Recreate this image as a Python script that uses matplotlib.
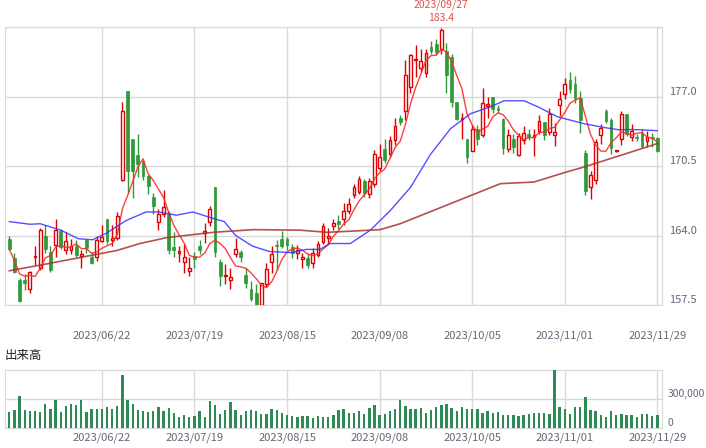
import matplotlib
matplotlib.use("Agg")
import matplotlib.pyplot as plt
import numpy as np
import pandas as pd

plt.rcParams['font.family'] = ['Noto Sans CJK JP', 'DejaVu Sans']

opens = [163.7,161.9,159.8,159.8,159.0,162.0,161.0,164.0,162.5,163.1,164.4,162.6,162.6,163.0,162.1,163.6,162.0,162.0,163.5,165.5,
         163.6,163.8,169.2,177.5,173.0,171.5,171.0,169.6,167.6,165.3,166.0,166.0,162.9,162.4,161.5,160.7,162.1,163.0,164.2,165.3,
         168.5,161.5,160.2,159.8,162.3,162.5,160.3,159.0,158.6,157.5,159.5,161.5,163.1,163.7,163.7,162.9,162.4,161.8,161.9,161.4,
         162.2,163.4,163.8,164.9,165.4,165.5,166.3,167.8,168.1,169.1,167.9,168.8,170.3,172.1,171.6,172.9,175.0,175.6,177.9,180.4,
         179.7,179.2,181.6,181.9,181.4,181.3,180.7,176.5,174.9,173.0,171.9,174.0,173.4,176.1,177.0,175.9,174.9,172.1,173.0,171.5,
         172.9,173.5,173.2,173.8,174.6,173.7,173.4,176.2,177.2,178.5,178.2,176.9,171.7,168.5,169.2,173.4,175.6,174.8,171.9,173.0,
         175.4,173.2,173.2,173.6,172.8,173.2,173.1]
closes = [162.7,160.6,157.9,159.6,160.6,162.1,164.5,162.7,160.8,164.5,162.9,163.5,163.0,162.2,162.3,162.8,161.4,163.6,163.9,163.5,
          163.8,165.8,175.6,170.0,170.0,170.7,169.6,168.6,166.8,166.0,166.7,162.6,162.6,162.5,162.0,161.0,161.8,162.6,164.4,166.5,
          162.5,160.2,160.3,160.1,162.7,162.0,159.6,158.1,157.4,159.6,160.9,162.3,163.0,163.0,163.1,162.4,162.6,162.0,161.2,162.4,
          163.2,164.9,163.9,165.2,165.1,166.3,166.9,168.5,169.3,168.0,169.1,171.6,171.3,171.1,172.9,174.2,174.6,179.0,180.9,180.5,
          180.3,181.1,181.3,181.2,183.2,179.0,176.5,174.9,175.0,171.3,174.0,173.0,176.4,176.3,175.8,175.8,172.2,173.4,172.3,173.3,
          173.6,173.2,173.4,174.7,173.4,175.4,173.7,176.8,178.2,177.7,176.9,174.8,168.2,169.7,172.7,174.1,174.7,172.2,172.0,175.4,
          173.5,173.8,173.1,172.4,173.2,173.1,171.9]
highs = [164.0,162.4,160.0,160.4,160.7,163.0,164.7,165.0,163.0,165.5,164.6,164.3,163.7,163.6,162.6,163.7,162.5,164.0,165.0,165.5,
         165.0,166.2,176.5,177.5,173.0,173.5,171.0,169.7,168.0,166.5,168.3,166.3,164.3,163.0,163.2,162.0,162.5,163.6,165.2,166.8,
         168.5,161.8,161.3,161.0,163.8,162.6,161.0,159.7,159.5,159.6,161.4,163.0,163.6,164.4,163.9,163.2,163.1,162.4,162.4,162.8,
         163.5,165.2,164.7,165.5,165.9,167.0,167.5,168.8,169.6,169.3,169.4,172.0,172.6,173.0,173.3,175.0,175.3,180.4,181.0,181.8,
         181.4,181.4,182.2,182.4,183.4,182.0,181.0,176.5,175.5,173.0,174.3,174.3,177.8,177.0,177.0,176.2,175.0,174.0,173.5,173.6,
         174.2,174.0,174.0,175.3,174.6,175.9,174.5,177.5,178.7,179.3,178.9,177.5,172.0,170.0,173.0,174.4,175.8,175.0,172.0,175.6,
         175.4,174.4,173.5,174.0,173.8,173.6,173.2]
lows = [162.6,160.5,157.8,158.9,158.6,161.2,160.8,162.4,160.6,162.0,162.7,162.3,162.3,162.0,161.0,162.4,161.3,161.6,163.4,163.2,
        163.0,163.6,169.1,168.0,167.5,169.5,169.2,167.9,166.0,164.5,165.7,162.3,162.0,161.5,160.5,160.2,161.0,162.3,163.3,164.9,
        162.0,159.3,159.5,159.0,162.0,161.5,159.1,157.9,157.2,157.5,159.2,160.5,160.8,162.8,162.6,161.9,161.8,161.0,161.0,161.0,
        162.0,163.2,163.2,164.5,164.6,165.0,166.0,167.5,167.9,167.6,167.5,168.5,170.0,170.8,171.3,172.5,174.3,174.8,177.3,178.8,
        179.3,178.8,181.0,180.9,181.0,177.3,176.0,174.8,173.0,170.8,171.9,172.5,173.2,175.0,175.5,175.5,171.6,171.8,171.7,171.4,
        172.6,172.9,171.4,173.5,172.9,173.4,172.4,175.2,176.8,177.3,176.4,173.6,167.8,167.4,168.8,172.6,174.5,171.6,171.8,172.5,
        173.3,172.8,172.8,172.2,172.3,172.3,171.8]
vol_px = [245,240,198,240,243,243,245,222,237,210, 245,228,222,225,210,245,237,237,237,231,
          237,228,132,210,222,240,243,245,243,231, 242,234,249,261,255,261,258,243,261,213,
          225,252,240,216,240,255,242,240,243,252, 252,237,240,249,255,258,261,258,258,264,
          258,261,261,255,240,237,249,249,243,252, 234,225,255,252,243,237,210,228,236,237,
          234,249,240,231,225,222,234,243,231,237, 237,237,249,243,249,246,255,255,255,258,
          255,252,249,249,249,252,100,231,237,252, 231,231,201,240,243,255,261,243,255,252,
          255,255,261,252,252,258,255]
volumes = [(294 - v) * 300000 / 89 for v in vol_px]

ma25_idx = [0,4,6,10,13.4,16.2,18.8,22.7,26.6,29,32.5,35.7,39.6,41.8,44,47.3,50.6,55,57.7,60.4,62.3,66.3,70.2,74.1,78,81.9,85.8,89.7,93.6,96.2,100.1,102.7,106.6,111.8,115.7,118.3,122.2,126]
ma25_val = [165.3,165.05,165.1,164.5,163.7,163.6,164.2,165.4,166.2,166.2,165.9,166.2,165.6,165.3,164.0,163.0,162.5,162.4,162.7,162.7,163.25,163.25,164.5,166.35,168.5,171.6,174.0,175.4,176.05,176.6,176.6,176.05,175.1,174.45,174.1,173.9,173.9,173.8]
ma75_idx = [0,7.9,14.4,20.9,25.4,30.6,39.7,47.5,56.5,61.7,66.3,72.1,76,82.5,89,95.5,102,108.4,111.7,115.6,120.2,126]
ma75_val = [160.7,161.4,162.0,162.6,163.25,163.8,164.3,164.55,164.5,164.3,164.4,164.55,165.1,166.35,167.6,168.85,169.0,169.95,170.4,171.0,171.7,172.6]

tick_idx = [18, 36, 54, 72, 90, 108, 126]
tick_labels = ['2023/06/22', '2023/07/19', '2023/08/15', '2023/09/08', '2023/10/05', '2023/11/01', '2023/11/29']

UP = '#e00000'; DOWN = '#2e9a3a'; GRID = '#d9d9d9'; TXT = '#666677'
W, H = 706, 448
fig = plt.figure(figsize=(W/100, H/100), dpi=100)
ax = fig.add_axes([5/W, (H-305)/H, 657/W, 278/H])
axv = fig.add_axes([5/W, (H-428)/H, 657/W, 58/H])

x = np.arange(len(closes))
o = np.array(opens); c = np.array(closes)
up = c >= o
ax.vlines(x, lows, highs, colors=np.where(up, UP, DOWN), lw=1, zorder=2)
body = np.where(np.abs(c-o) < 0.12, 0.12*np.where(up, 1, -1), c-o)
ax.bar(x[up], body[up], bottom=o[up], width=0.55, facecolor='white', edgecolor=UP, lw=1, zorder=3)
ax.bar(x[~up], body[~up], bottom=o[~up], width=0.55, facecolor=DOWN, edgecolor=DOWN, lw=0.5, zorder=3)

ma5 = pd.Series(closes).rolling(5, min_periods=1).mean()
ax.plot(x, ma5, color='#ff2a2a', lw=1, zorder=4, alpha=0.9)
ax.plot(ma25_idx, ma25_val, color='#3333ff', lw=1, zorder=4, alpha=0.85)
ax.plot(ma75_idx, ma75_val, color='#a83232', lw=1.2, zorder=4, alpha=0.85)

for a in (ax, axv):
    a.set_xlim(-0.84, 126.9)
    a.set_xticks(tick_idx)
    a.set_xticklabels(tick_labels)
    a.grid(True, color=GRID, lw=1)
    a.set_axisbelow(True)
    for s in a.spines.values():
        s.set_color(GRID)
    a.yaxis.tick_right()
    a.tick_params(length=0, labelsize=8, colors=TXT)

ax.set_ylim(157.5, 183.5)
ax.set_yticks([157.5, 164.0, 170.5, 177.0, 183.5])
ax.set_yticklabels(['157.5', '164.0', '170.5', '177.0', ''])
for lb in ax.get_yticklabels():
    lb.set_va('bottom')
ax.tick_params(axis='x', pad=18)
ax.tick_params(axis='y', pad=5)

axv.bar(x, volumes, width=0.45, color='#2e8b57', zorder=3)
axv.set_ylim(0, 593000)
axv.set_yticks([0, 300000])
axv.set_yticklabels(['0', '300,000'])
for lb in axv.get_yticklabels():
    lb.set_va('bottom')
axv.tick_params(axis='x', pad=3)
axv.tick_params(axis='y', pad=4, labelsize=7.5)

fig.text(5/W, 1-355/H, '出来高', fontsize=9, va='center', ha='left', color='#222222')
pk = int(np.argmax(highs))
ax.annotate('2023/09/27\n183.4', xy=(pk, 183.5), xytext=(0, 3), textcoords='offset points',
            ha='center', va='bottom', fontsize=7.5, color='#e05050', linespacing=1.3, annotation_clip=False)

fig.savefig('out.png', dpi=100)
